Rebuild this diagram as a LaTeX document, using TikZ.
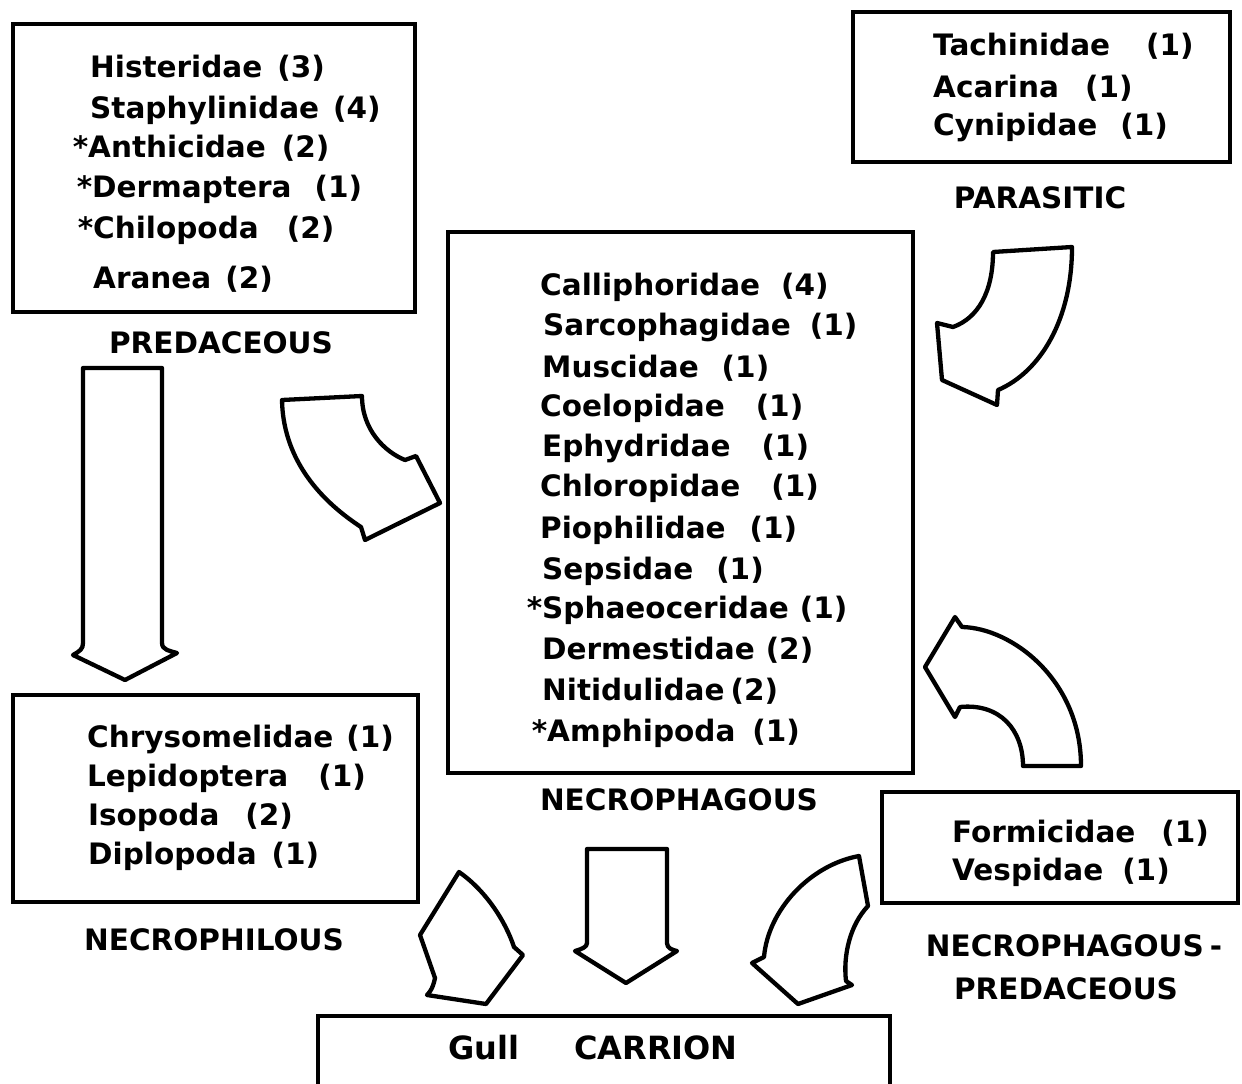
\documentclass[tikz,border=0pt]{standalone}
\usepackage{fontspec}
\setmainfont{DejaVu Sans}
\newcommand\lblfont{\fontsize{29.5}{35}\selectfont\bfseries}
\newcommand\bigfont{\fontsize{32}{38}\selectfont\bfseries}
\newcommand\gp[1]{\hspace*{#1pt}}
\tikzset{
  box/.style={draw, line width=3.5pt, inner sep=0pt},
  blk/.style={draw, line width=4.3pt, line join=round, line cap=round, fill=white},
  txt/.style={anchor=base west, inner sep=0pt, font=\lblfont},
  lab/.style={anchor=center, inner sep=0pt, font=\lblfont},
}
\begin{document}
\begin{tikzpicture}[x=1pt,y=-1pt]
\useasboundingbox (0,0) rectangle (1242,1084);

% boxes
\node[box, minimum width=402pt, minimum height=288pt] (predbox) at (214,168) {};
\node[box, minimum width=377pt, minimum height=150pt] (parbox) at (1041.5,87) {};
\node[box, minimum width=465pt, minimum height=541pt] (necbox) at (680.5,502.5) {};
\node[box, minimum width=405pt, minimum height=207pt] (philbox) at (215.5,798.5) {};
\node[box, minimum width=356pt, minimum height=111pt] (formbox) at (1060,847.5) {};
\coordinate (gbl) at (318,1084);
\coordinate (gbr) at (890,1084);
\draw[line width=3.5pt] (gbl) -- (318,1016) -- (890,1016) -- (gbr);

% predaceous
\node[txt] (p1) at (90,77) {Histeridae\gp{15}(3)};
\node[txt] (p2) at (90,118) {Staphylinidae\gp{14}(4)};
\node[txt] (p3) at (88,157) {\llap{*}Anthicidae\gp{16}(2)};
\node[txt] (p4) at (92,197) {\llap{*}Dermaptera\gp{23}(1)};
\node[txt] (p5) at (93,238) {\llap{*}Chilopoda\gp{28}(2)};
\node[txt] (p6) at (93,288) {Aranea\gp{14}(2)};
\node[lab] (predlab) at (221,343) {PREDACEOUS};

% parasitic
\node[txt] (q1) at (933,55) {Tachinidae\gp{36}(1)};
\node[txt] (q2) at (933,97) {Acarina\gp{26}(1)};
\node[txt] (q3) at (933,135) {Cynipidae\gp{23}(1)};
\node[lab] (parlab) at (1040,198) {PARASITIC};

% necrophagous
\node[txt] (n1) at (540,295) {Calliphoridae\gp{21}(4)};
\node[txt] (n2) at (543,335) {Sarcophagidae\gp{19}(1)};
\node[txt] (n3) at (542,377) {Muscidae\gp{23}(1)};
\node[txt] (n4) at (540,416) {Coelopidae\gp{31}(1)};
\node[txt] (n5) at (542,456) {Ephydridae\gp{31}(1)};
\node[txt] (n6) at (540,496) {Chloropidae\gp{31}(1)};
\node[txt] (n7) at (540,538) {Piophilidae\gp{24}(1)};
\node[txt] (n8) at (542,579) {Sepsidae\gp{23}(1)};
\node[txt] (n9) at (542,618) {\llap{*}Sphaeoceridae\gp{11}(1)};
\node[txt] (n10) at (542,659) {Dermestidae\gp{11}(2)};
\node[txt] (n11) at (542,700) {Nitidulidae\gp{6}(2)};
\node[txt] (n12) at (547,741) {\llap{*}Amphipoda\gp{17}(1)};
\node[lab] (neclab) at (679,800) {NECROPHAGOUS};

% necrophilous
\node[txt] (m1) at (87,747) {Chrysomelidae\gp{13}(1)};
\node[txt] (m2) at (87,786) {Lepidoptera\gp{30}(1)};
\node[txt] (m3) at (88,825) {Isopoda\gp{26}(2)};
\node[txt] (m4) at (88,864) {Diplopoda\gp{15}(1)};
\node[lab] (phillab) at (214,940) {NECROPHILOUS};

% necrophagous-predaceous
\node[txt] (f1) at (952,842) {Formicidae\gp{26}(1)};
\node[txt] (f2) at (952,880) {Vespidae\gp{19}(1)};
\node[lab] (formlab1) at (1074,946) {NECROPHAGOUS\gp{6}-};
\node[lab] (formlab2) at (1066,989) {PREDACEOUS};

% gull carrion
\node[lab, font=\bigfont] (gull) at (593,1048) {Gull\gp{55}CARRION};

% block arrows
% predaceous -> necrophilous (straight)
\draw[blk] (83,368) -- (162,368) -- (162,643)
  .. controls (162,650) and (170,651) .. (177,653) -- (125,680) -- (73,655)
  .. controls (80,651) and (83,649) .. (83,643) -- cycle;
% predaceous -> necrophagous (curved)
\draw[blk] (282,400) -- (362,396)
  .. controls (362,430) and (385,452) .. (405,460) -- (416,456) -- (440,503)
  -- (365,540) -- (361,527)
  .. controls (315,497) and (283,455) .. (282,400) -- cycle;
% parasitic -> necrophagous (curved)
\draw[blk] (993,252) -- (1072,247)
  .. controls (1072,320) and (1040,372) .. (998,390) -- (997,405) -- (942,380)
  -- (937,323) -- (953,327)
  .. controls (978,318) and (993,292) .. (993,252) -- cycle;
% necrophagous-predaceous -> necrophagous (curved)
\draw[blk] (925,667) -- (955,617) -- (962,627)
  .. controls (1012,628) and (1081,680) .. (1081,766) -- (1023,766)
  .. controls (1023,730) and (1000,703) .. (960,707) -- (955,717) -- cycle;
% necrophilous -> gull
\draw[blk] (459,872) -- (420,935) -- (435,978)
  .. controls (433,988) and (430,992) .. (427,995) -- (486,1004) -- (523,955)
  -- (514,947) .. controls (505,920) and (485,890) .. (459,872) -- cycle;
% necrophagous -> gull (straight)
\draw[blk] (587,849) -- (667,849) -- (667,943)
  .. controls (667,948) and (672,950) .. (677,951) -- (626,983) -- (575,951)
  .. controls (582,949) and (587,947) .. (587,943) -- cycle;
% necrophagous-predaceous -> gull
\draw[blk] (859,856) -- (868,906)
  .. controls (850,925) and (843,955) .. (846,981) -- (852,985) -- (798,1004)
  -- (752,963) -- (764,957)
  .. controls (768,910) and (810,865) .. (859,856) -- cycle;
\end{tikzpicture}
\end{document}
